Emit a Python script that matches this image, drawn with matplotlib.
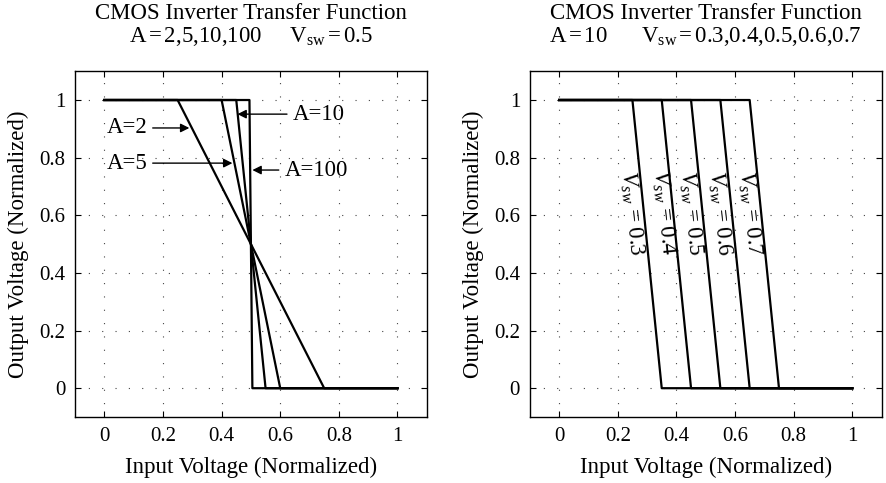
import matplotlib
matplotlib.use("Agg")
import matplotlib.pyplot as plt

plt.rcParams['font.family'] = ['Liberation Serif', 'DejaVu Serif']
plt.rcParams['mathtext.fontset'] = 'custom'
plt.rcParams['mathtext.rm'] = 'Liberation Serif'
plt.rcParams['mathtext.it'] = 'Liberation Serif:italic'

# breakpoints of each piecewise-linear transfer curve
out_levels = [1, 1, 0, 0]
gain_labels = ['A=2', 'A=5', 'A=10', 'A=100']
gain_x = [
    [0, 0.25, 0.75, 1],
    [0, 0.40, 0.60, 1],
    [0, 0.45, 0.55, 1],
    [0, 0.495, 0.505, 1],
]
vsw_labels = ['0.3', '0.4', '0.5', '0.6', '0.7']
vsw_x = [
    [0, 0.25, 0.35, 1],
    [0, 0.35, 0.45, 1],
    [0, 0.45, 0.55, 1],
    [0, 0.55, 0.65, 1],
    [0, 0.65, 0.75, 1],
]
ticks = [0, 0.2, 0.4, 0.6, 0.8, 1]
tick_text = ['0', '0.2', '0.4', '0.6', '0.8', '1']

fig = plt.figure(figsize=(8.86, 4.83), dpi=100)
ax1 = fig.add_axes([0.0847, 0.1366, 0.397, 0.716])
ax2 = fig.add_axes([0.598, 0.1366, 0.397, 0.716])


def style(ax, title):
    ax.set_xlim(-0.1, 1.1)
    ax.set_ylim(-0.1, 1.1)
    ax.set_xticks(ticks)
    ax.set_yticks(ticks)
    ax.set_xticklabels(tick_text)
    ax.set_yticklabels(tick_text)
    ax.tick_params(direction='in', top=True, right=True, labelsize=15,
                   length=4, width=0.8, pad=7)
    ax.grid(True, color='#444444', linestyle=(0, (1, 11)), linewidth=0.8)
    for s in ax.spines.values():
        s.set_linewidth(1.0)
    ax.set_xlabel('Input Voltage (Normalized)', fontsize=16.5, labelpad=8)
    ax.set_ylabel('Output Voltage (Normalized)', fontsize=16.5, labelpad=7)
    ax.set_title(title, fontsize=16.5, linespacing=1.05, pad=21)


style(ax1, 'CMOS Inverter Transfer Function\n'
      r'A$\,$=$\,$2,5,10,100     V$_{\mathrm{sw}}$$\,$=$\,$0.5')
style(ax2, 'CMOS Inverter Transfer Function\n'
      r'A$\,$=$\,$10      V$_{\mathrm{sw}}$$\,$=$\,$0.3,0.4,0.5,0.6,0.7')

for xs in gain_x:
    ax1.plot(xs, out_levels, color='black', linewidth=1.6)
for xs in vsw_x:
    ax2.plot(xs, out_levels, color='black', linewidth=1.6)

# arrow labels on the left panel
arrow = dict(arrowstyle='-|>', color='black', lw=1.0, mutation_scale=13,
             shrinkA=2, shrinkB=0)
ann_xy = [(0.29, 0.903), (0.437, 0.781), (0.454, 0.951), (0.505, 0.757)]
ann_text = [(0.007, 0.903), (0.007, 0.781), (0.642, 0.951), (0.614, 0.757)]
for txt, xy, xytext in zip(gain_labels, ann_xy, ann_text):
    ax1.annotate(txt, xy=xy, xytext=xytext, ha='left', va='center',
                 fontsize=16.5, arrowprops=arrow)

# rotated labels on the right panel
lab_x = [0.248, 0.355, 0.45, 0.548, 0.648]
for lx, v in zip(lab_x, vsw_labels):
    ax2.text(lx, 0.608, r'$V_{sw}$ = ' + v, rotation=-84, ha='center',
             va='center', fontsize=16.5, rotation_mode='anchor')

fig.savefig('out.png', dpi=100)
